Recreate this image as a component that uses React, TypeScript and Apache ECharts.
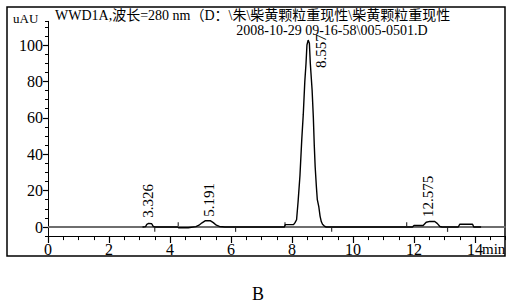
import React, { useEffect, useRef } from "react";
import * as echarts from "echarts";

const titleLine1 = "WWD1A,波长=280 nm（D：\\朱\\柴黄颗粒重现性\\柴黄颗粒重现性";
const titleLine2 = "2008-10-29 09-16-58\\005-0501.D";
const yUnit = "uAU";
const xUnit = "min";
const caption = "B";

const signalTime = [
  3.1, 3.2, 3.24, 3.3, 3.4, 3.45, 3.5, 4.25, 4.28, 4.6, 4.85, 4.95, 5.05, 5.15, 5.33, 5.42, 5.52, 5.62, 5.8,
  7.75, 7.78, 8.05, 8.1, 8.15, 8.2, 8.26, 8.32, 8.37, 8.42, 8.46, 8.49, 8.53, 8.57, 8.6, 8.66, 8.7, 8.73,
  8.76, 8.8, 8.83, 8.88, 8.92, 8.96, 9.0, 9.06, 9.12, 11.95, 12.0, 12.3, 12.4, 12.52, 12.68, 12.76, 12.85,
  12.92, 13.45, 13.5, 13.92, 13.96, 14.2,
];
const signalValue = [
  0, 0.2, 1.5, 2.0, 1.8, 0.3, 0, 0, -0.4, -0.4, 0.2, 1.0, 2.3, 3.4, 3.4, 2.4, 1.0, 0.3, 0,
  0, 1.3, 1.3, 2.4, 4.0, 14, 28, 48, 62, 80, 90, 100, 102.7, 101, 90, 75, 60, 45,
  33, 22, 15, 11, 6, 3, 1.5, 0.5, 0, 0, 0.8, 0.8, 2.6, 3.1, 3.0, 2.0, 0.3,
  0, 0, 1.5, 1.5, 0, 0,
];

const peakTimes = [3.326, 5.191, 8.557, 12.575];
const peakHeights = [1.8, 3.4, 102.7, 3.0];
const peakLabelOffsets = [
  [-1.5, -6],
  [3, -4],
  [12, 28],
  [-3.5, -4.5],
];

const markDown = [3.5, 6.15, 9.3, 13.1];
const markUp = [4.27, 7.77, 11.76];

const xTickLabels = [0, 2, 4, 6, 8, 10, 12, 14];
const yTickLabels = [0, 20, 40, 60, 80, 100];

const SERIF = "'Liberation Serif', 'Times New Roman', 'Noto Sans CJK SC', serif";

export default function App() {
  const ref = useRef<HTMLDivElement>(null);
  useEffect(() => {
    if (!ref.current) return;
    const chart = echarts.init(ref.current, undefined, { renderer: "svg" });
    const ppu = 1.82;
    const zeroY = 227;
    const left0 = 48;
    const ppx = 30.5;
    const g1Top = zeroY - 113 * ppu;
    const g1Bottom = 306 - (zeroY + 5 * ppu);
    const g2Top = zeroY - 100 * ppu;
    const g2Bottom = 306 - zeroY;

    const option: any = {
      animation: false,
      backgroundColor: "#fff",
      grid: [
        { left: left0, width: 15 * ppx, top: g1Top, bottom: g1Bottom },
        { left: left0, width: 14 * ppx, top: g2Top, bottom: g2Bottom },
      ],
      xAxis: [
        {
          type: "value", gridIndex: 0, min: 0, max: 15, interval: 0.5,
          axisLine: { onZero: false, lineStyle: { color: "#000", width: 1 } },
          axisTick: { length: 4, lineStyle: { color: "#000" } },
          axisLabel: { show: false }, splitLine: { show: false },
        },
        {
          type: "value", gridIndex: 1, min: 0, max: 14, interval: 2, offset: 9,
          axisLine: { show: false, onZero: false },
          axisTick: { show: true, length: 7, lineStyle: { color: "#000", width: 1.2 } },
          axisLabel: {
            show: true, margin: 5, color: "#000", fontFamily: SERIF, fontSize: 16,
            formatter: (v: number) => (xTickLabels.includes(v) ? String(v) : ""),
          },
          splitLine: { show: false },
        },
      ],
      yAxis: [
        {
          type: "value", gridIndex: 0, min: -5, max: 113, interval: 5,
          axisLine: { onZero: false, lineStyle: { color: "#000", width: 1 } },
          axisTick: { length: 3, lineStyle: { color: "#000" } },
          axisLabel: { show: false }, splitLine: { show: false },
        },
        {
          type: "value", gridIndex: 1, min: 0, max: 100, interval: 20,
          axisLine: { show: false, onZero: false },
          axisTick: { show: true, length: 5, lineStyle: { color: "#000", width: 1.2 } },
          axisLabel: {
            show: true, margin: 5, color: "#000", fontFamily: SERIF, fontSize: 16,
            formatter: (v: number) => (yTickLabels.includes(v) ? String(v) : ""),
          },
          splitLine: { show: false },
        },
      ],
      series: [
        {
          type: "line", xAxisIndex: 0, yAxisIndex: 0, showSymbol: false, silent: true,
          data: [[0, 0], [15, 0]],
          lineStyle: { color: "#6e6e6e", width: 2 },
        },
        {
          type: "line", xAxisIndex: 0, yAxisIndex: 0, showSymbol: false, silent: true,
          data: signalTime.map((t, i) => [t, signalValue[i]]),
          lineStyle: { color: "#000", width: 1.4 },
        },
        {
          type: "scatter", xAxisIndex: 0, yAxisIndex: 0, silent: true,
          symbol: "rect", symbolSize: [1.2, 5],
          itemStyle: { color: "#000" },
          data: [
            ...markDown.map((t) => [t, -1.3]),
            ...markUp.map((t) => [t, 1.3]),
          ],
        },
        {
          type: "custom", xAxisIndex: 0, yAxisIndex: 0, silent: true,
          data: peakTimes.map((t, i) => [t, peakHeights[i], i]),
          renderItem: (params: any, api: any) => {
            const i = api.value(2);
            const p = api.coord([api.value(0), api.value(1)]);
            const off = peakLabelOffsets[i];
            return {
              type: "text",
              x: p[0] + off[0],
              y: p[1] + off[1],
              rotation: Math.PI / 2,
              style: {
                text: peakTimes[i].toFixed(3),
                fill: "#000",
                font: `15px ${SERIF}`,
                align: "left",
                verticalAlign: "middle",
              },
            };
          },
        },
      ],
      graphic: [
        {
          type: "rect", shape: { x: 7, y: 7, width: 498, height: 249 },
          style: { fill: "none", stroke: "#000", lineWidth: 1.5 },
        },
        {
          type: "text", x: 55, y: 15,
          style: { text: titleLine1, fill: "#000", font: `14px ${SERIF}`, verticalAlign: "middle" },
        },
        {
          type: "text", x: 332, y: 30,
          style: { text: titleLine2, fill: "#000", font: `14px ${SERIF}`, align: "center", verticalAlign: "middle" },
        },
        {
          type: "text", x: 13, y: 18,
          style: { text: yUnit, fill: "#000", font: `13px ${SERIF}`, verticalAlign: "middle" },
        },
        {
          type: "text", x: 482, y: 249,
          style: { text: xUnit, fill: "#000", font: `15px ${SERIF}`, verticalAlign: "middle" },
        },
        {
          type: "text", x: 258, y: 294,
          style: { text: caption, fill: "#000", font: `18px ${SERIF}`, align: "center", verticalAlign: "middle" },
        },
      ],
    };
    chart.setOption(option);
    return () => chart.dispose();
  }, []);
  return (
    <div
      ref={ref}
      style={{ position: "fixed", left: 0, top: 0, width: 512, height: 306, background: "#fff" }}
    />
  );
}
